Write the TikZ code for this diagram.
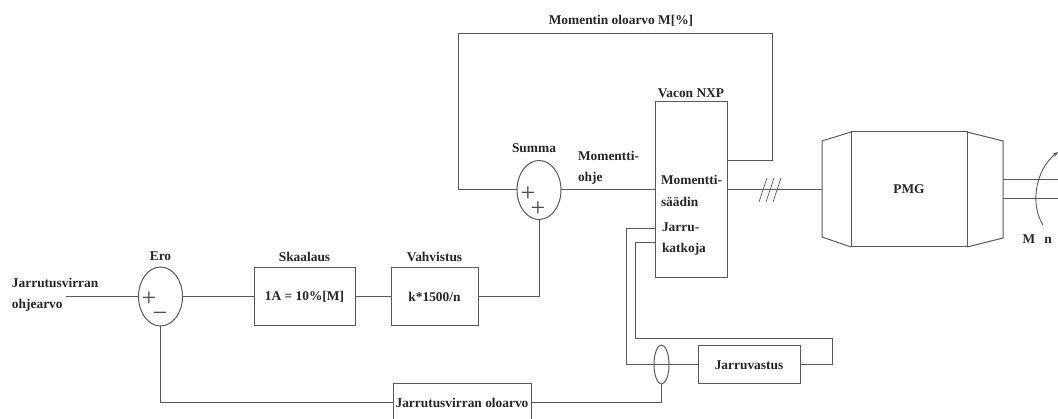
\documentclass[tikz,border=0pt]{standalone}
\usepackage{fontspec}
\setmainfont{Liberation Serif}
\usepackage{xcolor}
\usetikzlibrary{shapes.geometric, arrows.meta, positioning}

\begin{document}
\begin{tikzpicture}[
  x=1pt, y=-1pt,
  blk/.style={rectangle, draw=black!65, line width=1pt, inner sep=0pt, outer sep=0pt, align=center, font=\fontsize{13.4}{16}\selectfont\bfseries, text=black!85},
  circ/.style={ellipse, draw=black!65, line width=1pt, inner sep=0pt, outer sep=0pt, minimum width=44pt, minimum height=59pt},
  txt/.style={inner sep=0pt, outer sep=0pt, align=left, font=\fontsize{13.4}{21.5}\selectfont\bfseries, text=black!85},
  sign/.style={inner sep=0pt, outer sep=0pt, font=\fontsize{26}{26}\selectfont, text=black!70},
  wire/.style={draw=black!65, line width=1pt}
]
  \useasboundingbox (0,0) rectangle (1058,419);

  \node[circ] (ero) at (160.5,296.5) {};
  \node[blk, minimum width=101pt, minimum height=58pt, right=71.5pt of ero] (skaalaus) {1A = 10\%[M]};
  \node[blk, minimum width=87pt, minimum height=58pt, right=36pt of skaalaus] (vahvistus) {k*1500/n};
  \node[circ] (summa) at (539,190) {};
  \node[blk, minimum width=72pt, minimum height=176pt, right=94pt of summa] (vacon) {};
  \node[blk, minimum width=116pt, minimum height=115pt] (pmg) at (909,189.5) {PMG};
  \node[blk, minimum width=138pt, minimum height=38pt] (oloarvo) at (462,403) {Jarrutusvirran oloarvo};
  \node[blk, minimum width=102pt, minimum height=38pt] (vastus) at (749,365) {Jarruvastus};
  \node[ellipse, draw=black!65, line width=1pt, inner sep=0pt, outer sep=0pt, minimum width=15pt, minimum height=39pt] (anturi) at (661.5,364.5) {};

  % labels
  \node[txt, above=6pt of ero] (eroname) {Ero};
  \node[txt, above=6pt of skaalaus] (skaalausname) {Skaalaus};
  \node[txt, above=6pt of vahvistus] (vahvistusname) {Vahvistus};
  \node[txt, above=8pt of summa, xshift=-5pt] (summaname) {Summa};
  \node[txt, above=4pt of vacon] (vaconname) {Vacon NXP};
  \node[txt] (topname) at (621,21) {Momentin oloarvo M[\%]};
  \node[txt, anchor=west] (ohjename) at (12,295) {Jarrutusvirran\\ohjearvo};
  \node[txt, anchor=west] (momohje) at (578,168) {Momentti-\\ohje};
  \node[txt, anchor=west] (saadin) at (661,191) {Momentti-\\säädin};
  \node[txt, anchor=west] (katkoja) at (662,239) {Jarru-\\katkoja};
  \node[txt] (mname) at (1029,239) {M};
  \node[txt] (nname) at (1048,240) {n};

  % signs
  \node[sign] (eroplus) at (149,299) {+};
  \node[sign] (erominus) at (160,317) {−};
  \node[sign] (sumplus) at (528,194) {+};
  \node[sign] (sumplusb) at (538,209) {+};

  % free ends
  \coordinate (inp) at (66,296.5);
  \coordinate (pmgin) at (822,190);
  \coordinate (shafta) at (1058,180);
  \coordinate (shaftb) at (1058,199);
  \coordinate (rota) at (1043,225);
  \coordinate (rotb) at (1058,152);
  \coordinate (hash) at (770,190);

  \draw[wire] (inp) -- (ero);
  \draw[wire] (ero) -- (skaalaus);
  \draw[wire] (skaalaus) -- (vahvistus);
  \draw[wire] (vahvistus.east) -| (summa.south);
  \draw[wire] (summa) -- (vacon);
  \draw[wire] (summa.west) -- ++(-59,0) |- (772,34) |- (vacon.east |- 0,161);
  \draw[wire] (vacon.east |- pmgin) -- (pmgin);
  \draw[wire] (ero.south) |- (oloarvo.west);
  \draw[wire] (oloarvo.east) -| (anturi.south);
  \draw[wire] (vacon.west |- 0,229) -- ++(-29,0) |- (vastus.west);
  \draw[wire] (vastus.east) -- ++(32,0) |- (635,339) |- (vacon.west |- 0,243);

  % PMG ends
  \draw[wire] (pmg.north west) -- ++(-29,9) -- ++(0,96) -- (pmg.south west);
  \draw[wire] (pmg.north east) -- ++(36,9) -- ++(0,97) -- (pmg.south east);
  \draw[wire] (1003,180) -- (shafta);
  \draw[wire] (1003,199) -- (shaftb);
  \draw[draw=black!65, line width=0.9pt, -{Stealth[length=5pt]}] (rota) .. controls (1030,205) and (1035,170) .. (rotb);

  \foreach \dx in {-7,0,7}
    \draw[draw=black!65, line width=0.7pt] ([xshift=\dx pt-4pt,yshift=-12pt]hash) -- ([xshift=\dx pt+4pt,yshift=12pt]hash);
\end{tikzpicture}
\end{document}
